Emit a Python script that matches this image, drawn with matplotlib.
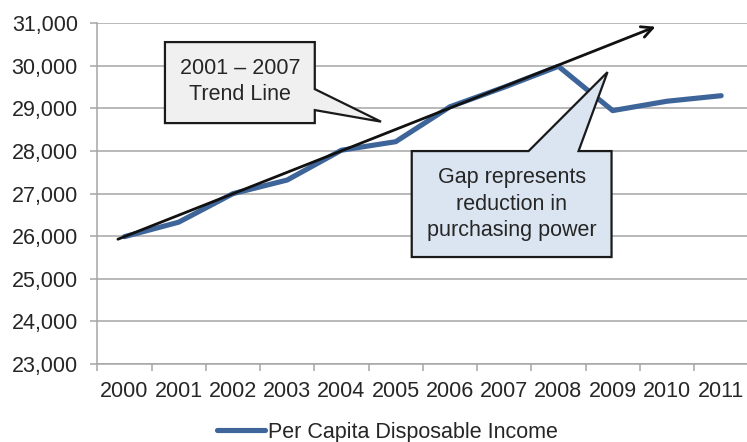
import matplotlib
matplotlib.use("Agg")
import matplotlib.pyplot as plt
from matplotlib.patches import Polygon
from matplotlib.lines import Line2D
from matplotlib.ticker import FuncFormatter

plt.rcParams['font.family'] = ['Liberation Sans', 'DejaVu Sans']

# data
years = ['2000', '2001', '2002', '2003', '2004', '2005',
         '2006', '2007', '2008', '2009', '2010', '2011']
income = [25990, 26330, 27000, 27320, 28020, 28220,
          29040, 29500, 29990, 28950, 29170, 29300]
trend_x = [-0.12, 9.79]
trend_y = [25930, 30920]
series_name = 'Per Capita Disposable Income'
trend_text = '2001 \u2013 2007\nTrend Line'
gap_text = 'Gap represents\nreduction in\npurchasing power'

blue = '#3d6599'
grid = '#a6a6a6'
txt = '#262626'
fs = 15.5

fig = plt.figure(figsize=(7.47, 4.42), dpi=100)
ax = fig.add_axes([97.3 / 747, 78 / 442, 651 / 747, 340.7 / 442])

x = list(range(len(years)))
ax.plot(x, income, color=blue, lw=3.7, solid_joinstyle='round',
        solid_capstyle='round', zorder=3)

ax.set_xlim(-0.5, len(years) - 0.5)
ax.set_ylim(23000, 31000)
ax.set_yticks(range(23000, 31001, 1000))
ax.yaxis.set_major_formatter(FuncFormatter(lambda v, p: f'{int(v):,}'))
ax.set_xticks(x)
ax.set_xticklabels(years)
ax.set_xticks([i - 0.5 for i in range(len(years) + 1)], minor=True)

ax.grid(axis='y', color=grid, lw=1.1, zorder=0)
ax.set_axisbelow(True)
for s in ['top', 'right']:
    ax.spines[s].set_visible(False)
for s in ['left', 'bottom']:
    ax.spines[s].set_color(grid)
    ax.spines[s].set_linewidth(1.1)

ax.tick_params(axis='y', length=5, width=1.1, color=grid, pad=9,
               labelsize=fs, labelcolor=txt)
ax.tick_params(axis='x', which='major', length=0, pad=12,
               labelsize=fs, labelcolor=txt)
ax.tick_params(axis='x', which='minor', length=5, width=1.1, color=grid)


def callout(pts, face, label, cx, cy):
    poly = Polygon(pts, closed=True, facecolor=face, edgecolor='#1a1a1a',
                   lw=1.6, joinstyle='miter', zorder=4)
    ax.add_patch(poly)
    ax.text(cx, cy, label, ha='center', va='center', fontsize=fs,
            color=txt, linespacing=1.35, zorder=5)


# trend line callout (box with wedge pointing right)
bx0, bx1, by0, by1 = 0.747, 3.509, 28657, 30559
callout([(bx0, by0), (bx1, by0), (bx1, 28962), (4.73, 28690),
         (bx1, 29455), (bx1, by1), (bx0, by1)],
        '#f0f0f0', trend_text, (bx0 + bx1) / 2, (by0 + by1) / 2 + 30)

# gap callout (box with wedge pointing up)
gx0, gx1, gy0, gy1 = 5.296, 8.979, 25512, 28000
callout([(gx0, gy0), (gx1, gy0), (gx1, gy1), (8.371, gy1), (8.905, 29854),
         (7.450, gy1), (gx0, gy1)],
        '#dbe5f1', gap_text, (gx0 + gx1) / 2, (gy0 + gy1) / 2)

ax.annotate('', xy=(trend_x[1], trend_y[1]), xytext=(trend_x[0], trend_y[0]),
            arrowprops=dict(arrowstyle='->,head_length=0.8,head_width=0.4',
                            lw=2, color='#111111', shrinkA=0, shrinkB=0),
            zorder=6)

handle = Line2D([], [], color=blue, lw=3.7, solid_capstyle='round')
fig.legend([handle], [series_name], loc='center',
           bbox_to_anchor=(387.5 / 747, 9.5 / 442), frameon=False,
           fontsize=fs, handlelength=2.2, handletextpad=0.15,
           borderpad=0, labelcolor=txt)

fig.savefig('out.png', dpi=100)
